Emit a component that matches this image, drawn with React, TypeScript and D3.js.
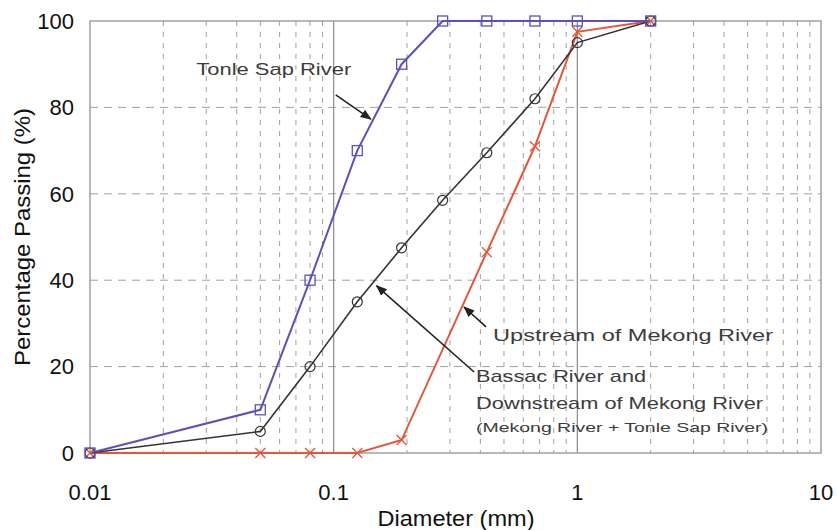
import React from "react";
import * as d3 from "d3";

// sieve sizes (mm)
const diameters = [0.01, 0.05, 0.08, 0.125, 0.19, 0.28, 0.425, 0.67, 1, 2];
const tonleSap = [0, 10, 40, 70, 90, 100, 100, 100, 100, 100];
const bassac = [0, 5, 20, 35, 47.5, 58.5, 69.5, 82, 95, 100];
const upstreamD = [0.01, 0.05, 0.08, 0.125, 0.19, 0.425, 0.67, 1, 2];
const upstream = [0, 0, 0, 0, 3, 46.5, 71, 97.5, 100];

const xTicks = [0.01, 0.1, 1, 10];
const xTickLabels = ["0.01", "0.1", "1", "10"];
const yTicks = [0, 20, 40, 60, 80, 100];

const width = 837;
const height = 530;
const left = 90, right = 821, top = 21, bottom = 453;

const BLUE = "#5a52b8";
const BLACK = "#333";
const RED = "#e2583a";
const GRID = "#a0a0a0";
const FONT = "Liberation Sans, Arial, sans-serif";

export default function App() {
  const x = d3.scaleLog().domain([0.01, 10]).range([left, right]);
  const y = d3.scaleLinear().domain([0, 100]).range([bottom, top]);

  const line = d3
    .line<[number, number]>()
    .x((d) => x(d[0]))
    .y((d) => y(d[1]));

  const blue = diameters.map((d, i) => [d, tonleSap[i]] as [number, number]);
  const black = diameters.map((d, i) => [d, bassac[i]] as [number, number]);
  const red = upstreamD.map((d, i) => [d, upstream[i]] as [number, number]);

  // minor decade lines 2..9
  const minor: number[] = [];
  [0.01, 0.1, 1].forEach((dec) => {
    for (let k = 2; k <= 9; k++) minor.push(dec * k);
  });

  return (
    <svg
      width={width}
      height={height}
      style={{ position: "absolute", left: 0, top: 0, background: "#fff" }}
      fontFamily={FONT}
    >
      <defs>
        <marker id="arr" viewBox="0 0 10 10" refX="9" refY="5" markerWidth="7" markerHeight="7" orient="auto">
          <path d="M0,1 L10,5 L0,9 z" fill="#222" />
        </marker>
      </defs>

      {/* grid */}
      {minor.map((m) => (
        <line key={"m" + m} x1={x(m)} x2={x(m)} y1={top} y2={bottom} stroke={GRID} strokeWidth={1} strokeDasharray="5,6" />
      ))}
      {yTicks.slice(1, -1).map((t) => (
        <line key={"h" + t} x1={left} x2={right} y1={y(t)} y2={y(t)} stroke={GRID} strokeWidth={1} strokeDasharray="8,6" />
      ))}
      {[0.1, 1].map((t) => (
        <line key={"v" + t} x1={x(t)} x2={x(t)} y1={top} y2={bottom} stroke="#8a8a8a" strokeWidth={1.2} />
      ))}
      <rect x={left} y={top} width={right - left} height={bottom - top} fill="none" stroke="#a0a0a0" strokeWidth={1.5} />

      {/* series lines */}
      <path d={line(red) || ""} fill="none" stroke={RED} strokeWidth={2} />
      <path d={line(black) || ""} fill="none" stroke={BLACK} strokeWidth={1.6} />
      <path d={line(blue) || ""} fill="none" stroke={BLUE} strokeWidth={2} />

      {/* markers */}
      {red.map(([d, v], i) => (
        <g key={"rx" + i} stroke={RED} strokeWidth={1.4}>
          <line x1={x(d) - 5} x2={x(d) + 5} y1={y(v) - 5} y2={y(v) + 5} />
          <line x1={x(d) - 5} x2={x(d) + 5} y1={y(v) + 5} y2={y(v) - 5} />
        </g>
      ))}
      {black.map(([d, v], i) => (
        <circle key={"bc" + i} cx={x(d)} cy={y(v)} r={5} fill="none" stroke={BLACK} strokeWidth={1.2} />
      ))}
      {blue.map(([d, v], i) => (
        <rect key={"bs" + i} x={x(d) - 5} y={y(v) - 5} width={10} height={10} fill="none" stroke={BLUE} strokeWidth={1.3} />
      ))}

      {/* annotations */}
      <g fill="#3c3c3c" fontSize={17}>
        <text x={x(0.0273)} y={y(87.5)} textLength={155} lengthAdjust="spacingAndGlyphs">Tonle Sap River</text>
        <line x1={x(0.102)} y1={y(82.9)} x2={x(0.142)} y2={y(77.3)} stroke="#222" strokeWidth={1.6} markerEnd="url(#arr)" />

        <text x={x(0.451)} y={y(25.9)} textLength={280} lengthAdjust="spacingAndGlyphs">Upstream of Mekong River</text>
        <line x1={x(0.422)} y1={y(29.2)} x2={x(0.343)} y2={y(33.8)} stroke="#222" strokeWidth={1.6} markerEnd="url(#arr)" />

        <text x={x(0.384)} y={y(16.5)} textLength={170} lengthAdjust="spacingAndGlyphs">Bassac River and</text>
        <text x={x(0.384)} y={y(10.2)} textLength={287} lengthAdjust="spacingAndGlyphs">Downstream of Mekong River</text>
        <text x={x(0.384)} y={y(4.9)} fontSize={13} textLength={292} lengthAdjust="spacingAndGlyphs">(Mekong River + Tonle Sap River)</text>
        <line x1={x(0.377)} y1={y(18.75)} x2={x(0.15)} y2={y(38.7)} stroke="#222" strokeWidth={1.6} markerEnd="url(#arr)" />
      </g>

      {/* axes labels */}
      <g fontSize={22} fill="#111">
        {yTicks.map((t) => (
          <text key={"yt" + t} x={74} y={y(t)} dy="0.35em" textAnchor="end">{t}</text>
        ))}
        {xTicks.map((t, i) => (
          <text key={"xt" + t} x={x(t)} y={500} textAnchor="middle">{xTickLabels[i]}</text>
        ))}
        <text x={456} y={526} textAnchor="middle" textLength={157} lengthAdjust="spacingAndGlyphs">Diameter (mm)</text>
        <text transform="translate(30,237) rotate(-90)" textAnchor="middle" textLength={258} lengthAdjust="spacingAndGlyphs">Percentage Passing (%)</text>
      </g>
    </svg>
  );
}
